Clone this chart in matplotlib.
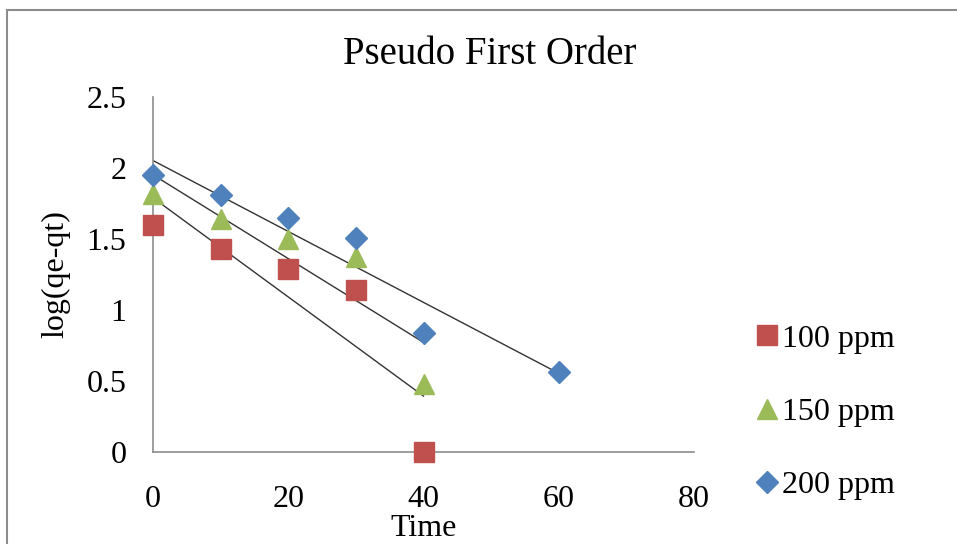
import numpy as np
import matplotlib
matplotlib.use('Agg')
import matplotlib.pyplot as plt
from matplotlib.patches import Rectangle

plt.rcParams['font.family'] = ['Liberation Serif', 'DejaVu Serif']

# data
t_100 = [0, 10, 20, 30, 40]
y_100 = [1.60, 1.43, 1.29, 1.14, 0.0]
t_150 = [0, 10, 20, 30, 40]
y_150 = [1.82, 1.64, 1.50, 1.37, 0.48]
t_200 = [0, 10, 20, 30, 40, 60]
y_200 = [1.95, 1.81, 1.65, 1.51, 0.84, 0.56]

labels = ['100 ppm', '150 ppm', '200 ppm']
xticks = [0, 20, 40, 60, 80]
yticks = [0, 0.5, 1, 1.5, 2, 2.5]
yticklabels = ['0', '0.5', '1', '1.5', '2', '2.5']

fig = plt.figure(figsize=(9.57, 5.44), dpi=100)
ax = fig.add_axes([153/957, 1 - 452/544, (694 - 153)/957, (452 - 97)/544])

series = [
    (t_100, y_100, 's', '#C0504D', 14),
    (t_150, y_150, '^', '#9BBB59', 15),
    (t_200, y_200, 'D', '#4F81BD', 11),
]

for (tt, yy, mk, col, ms), lab in zip(series, labels):
    tt = np.array(tt, dtype=float)
    yy = np.array(yy, dtype=float)
    ax.plot(tt, yy, linestyle='none', marker=mk, color=col, markersize=ms,
            label=lab, clip_on=False, zorder=3)
    # linear trendline
    k, b = np.polyfit(tt, yy, 1)
    xs = np.array([tt.min(), tt.max()])
    ax.plot(xs, k * xs + b, color='#333333', lw=1.0, zorder=2)

ax.set_xlim(0, 80)
ax.set_ylim(0, 2.5)
ax.set_xticks(xticks)
ax.set_yticks(yticks)
ax.set_yticklabels(yticklabels)
ax.tick_params(length=0, labelsize=23)
ax.tick_params(axis='x', pad=24)
ax.tick_params(axis='y', pad=19)
for s in ['top', 'right']:
    ax.spines[s].set_visible(False)
for s in ['left', 'bottom']:
    ax.spines[s].set_color('#8c8c8c')
    ax.spines[s].set_linewidth(1.2)

ax.set_xlabel('Time', fontsize=23, labelpad=0)
ax.set_ylabel('log(qe-qt)', fontsize=23, labelpad=12)
fig.text(490/957, 1 - 55/544, 'Pseudo First Order', fontsize=28,
         ha='center', va='center')

ax.legend(loc='center left', bbox_to_anchor=(748/957, 1 - 412/544),
          bbox_transform=fig.transFigure, frameon=False, fontsize=23,
          handletextpad=-0.15, labelspacing=1.37, handlelength=1.2,
          borderpad=0, borderaxespad=0)

# outer chart border
fig.patches.append(Rectangle((7/957, -0.1), 1.2, 1.1 - 10/544,
                             transform=fig.transFigure, fill=False,
                             edgecolor='#8c8c8c', lw=1.5))

fig.savefig('out.png', dpi=100)
